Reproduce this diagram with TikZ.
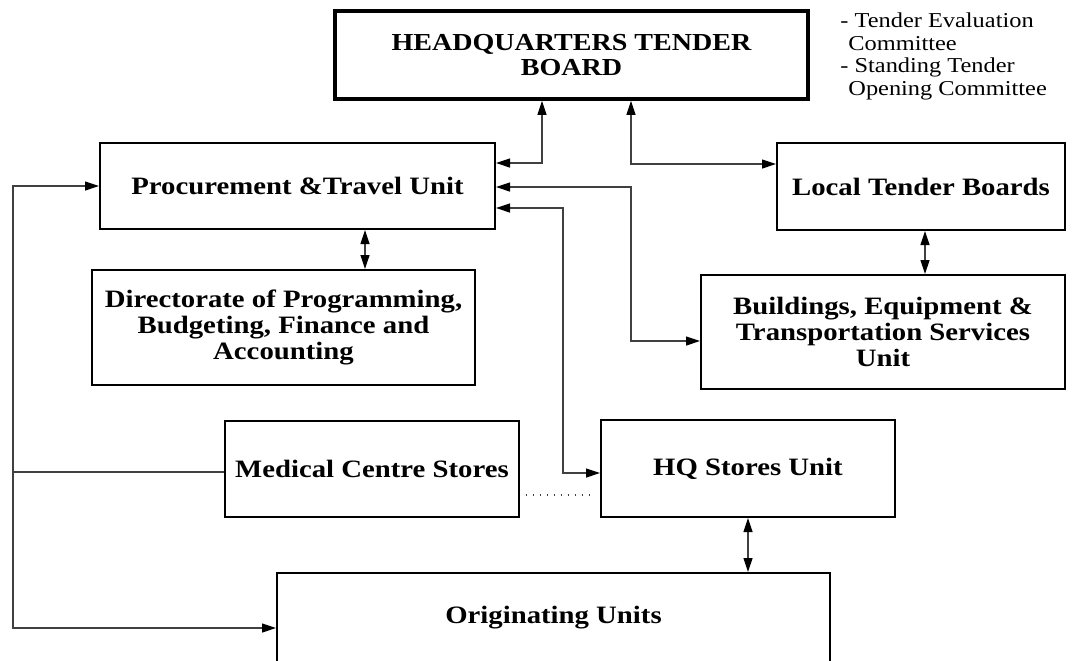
\documentclass[tikz,border=0pt]{standalone}
\usepackage{fontspec}
\setmainfont[FakeStretch=1.15]{Liberation Serif}
\usetikzlibrary{arrows.meta}
\begin{document}
\begin{tikzpicture}[x=0.5pt, y=-0.5pt, >={Triangle[length=7pt,width=4.5pt,color=black]},
    box/.style={
        draw,
        line width=1pt,
        align=center,
        inner sep=0pt,
        font=\fontsize{12.5}{13}\selectfont\bfseries},
    note/.style={
        align=left,
        anchor=west,
        inner sep=0pt,
        font=\fontsize{10.6}{11.7}\selectfont},
    link/.style={draw=black!75, line width=0.6pt}]

    \useasboundingbox (0,0) rectangle (1072,660);

    \node[box, line width=1.8pt, minimum width=236.5pt, minimum height=44pt,
        font=\fontsize{12.2}{12.5}\selectfont\bfseries] (hq) at (571.5,55) {HEADQUARTERS TENDER\\BOARD};
    \node[box, minimum width=197.5pt, minimum height=43pt] (proc) at (297.5,186) {Procurement \&Travel Unit};
    \node[box, minimum width=191.5pt, minimum height=57.5pt] (dir) at (283.5,327.5) {Directorate of Programming,\\Budgeting, Finance and\\Accounting};
    \node[box, minimum width=144pt, minimum height=43.5pt] (ltb) at (921,186.5) {Local Tender Boards};
    \node[box, minimum width=182pt, minimum height=57pt] (bld) at (883,332) {Buildings, Equipment \&\\Transportation Services\\Unit};
    \node[box, line width=0.6pt, minimum width=147pt, minimum height=48pt] (med) at (372,469) {Medical Centre Stores};
    \node[box, minimum width=147pt, minimum height=48.5pt] (hqs) at (748,468.5) {HQ Stores Unit};
    \node[box, minimum width=276.5pt, minimum height=45pt] (orig) at (553.5,618) {Originating Units};

    \node[note] (tec) at (840,31.5) {- Tender Evaluation\\\hspace*{4pt}Committee};
    \node[note] (stoc) at (840,79) {- Standing Tender\\\hspace*{4pt}Opening Committee};

    \draw[link, <->] (proc.east |- 0,163) -| (hq.south -| 542,0);
    \draw[link, <->] (hq.south -| 631,0) |- (ltb.west |- 0,164);
    \draw[link, <->] (proc.east |- 0,187) -| (631,341) -- (bld.west |- 0,341);
    \draw[link, <->] (proc.east |- 0,208) -| (563,473) -- (hqs.west |- 0,473);
    \draw[link, <->] (proc.south -| 365,0) -- (dir.north -| 365,0);
    \draw[link, <->] (ltb.south -| 925,0) -- (bld.north -| 925,0);
    \draw[link, <->] (hqs.south) -- (orig.north -| hqs.south);

    \draw[link, <->] (proc.west) -| (13,628) -- (orig.west |- 0,628);
    \draw[link] (med.west |- 0,472) -- (13,472);
    % dotted tie between the two stores
    \draw[link, dash pattern=on 0.7pt off 2.8pt, shorten <=3pt, shorten >=3pt] (med.east |- 0,495) -- (hqs.west |- 0,495);
\end{tikzpicture}
\end{document}
